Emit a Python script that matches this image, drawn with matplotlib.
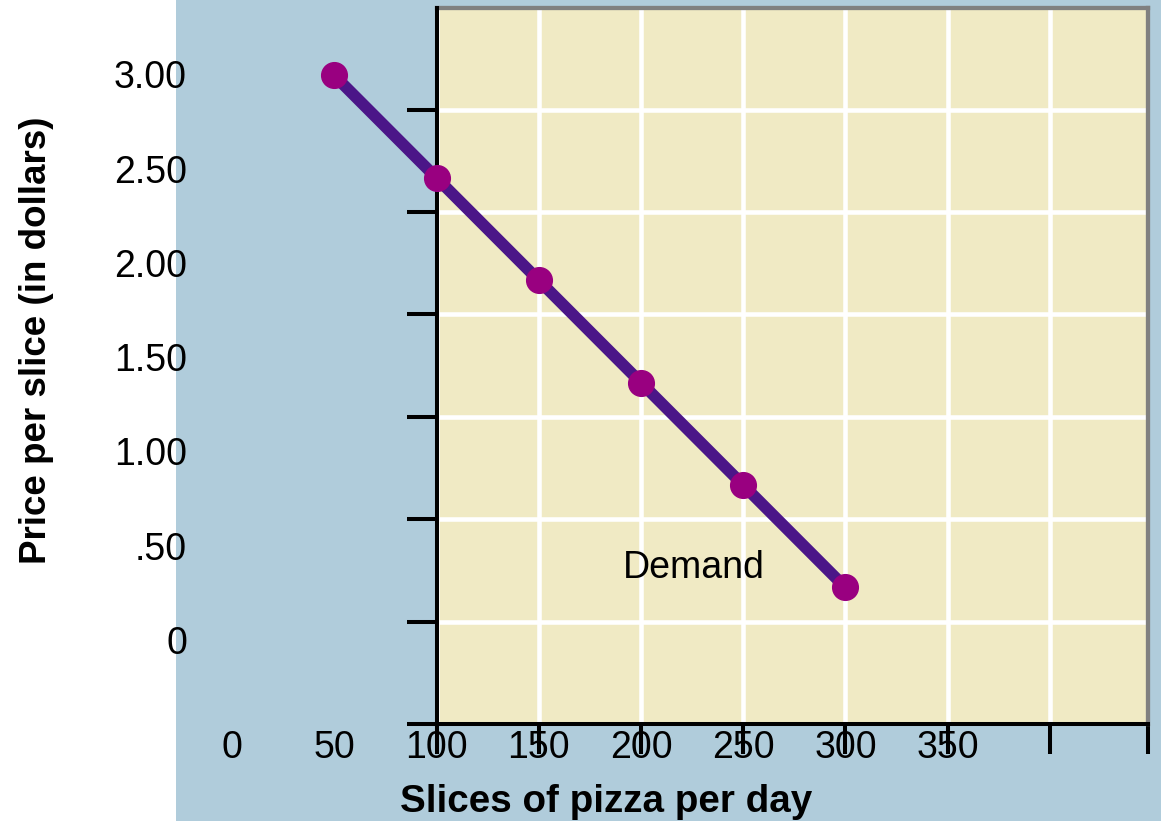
import matplotlib
matplotlib.use("Agg")
import matplotlib.pyplot as plt
import numpy as np
from matplotlib.patches import Rectangle
from matplotlib.transforms import blended_transform_factory

plt.rcParams["font.family"] = ["Liberation Sans", "DejaVu Sans"]

# Demand schedule for pizza slices
quantity = [50, 100, 150, 200, 250, 300]
price = [3.00, 2.50, 2.00, 1.50, 1.00, 0.50]

# Axis labelling
x_label_values = [0, 50, 100, 150, 200, 250, 300, 350]
x_label_text = ["0", "50", "100", "150", "200", "250", "300", "350"]
y_label_values = [0, 0.5, 1.0, 1.5, 2.0, 2.5, 3.0]
y_label_text = ["0", ".50", "1.00", "1.50", "2.00", "2.50", "3.00"]

LABEL_SIZE = 27

W, H = 1161, 821
fig = plt.figure(figsize=(W / 100, H / 100), dpi=100)
fig.patch.set_facecolor("white")
fig.add_artist(Rectangle((176 / W, 0), 1 - 176 / W, 1, transform=fig.transFigure,
                         facecolor="#b0ccdb", edgecolor="none", zorder=0))

ax_h = (724 - 8.5) / H
ax = fig.add_axes([436.5 / W, 97 / H, (1148 - 436.5) / W, ax_h])
ax.set_facecolor("#f0eac4")
ax.set_xlim(100, 448)
ax.set_ylim(-1 / 6, 3.327)

ax.set_xticks(list(range(100, 401, 50)) + [448])
ax.set_xticklabels([])
ax.set_yticks(np.arange(7) * 0.5 - 1 / 6)
ax.set_yticklabels([])
ax.tick_params(direction="out", length=21.5, width=2.9, color="black")
ax.grid(True, color="white", linewidth=3.3)
ax.set_axisbelow(True)

for side in ("left", "bottom"):
    ax.spines[side].set_color("black")
    ax.spines[side].set_linewidth(2.9)
for side in ("top", "right"):
    ax.spines[side].set_color("#808080")
    ax.spines[side].set_linewidth(3.1)
ax.spines["left"].set_zorder(2.6)

ax.plot(quantity, price, color="#4b1688", lw=8.4, marker="o", ms=18.5,
        mfc="#990080", mec="#990080", clip_on=False, zorder=5)

ax.text(191.4, 0.546, "Demand", ha="left", va="baseline", fontsize=LABEL_SIZE)

# Price labels on their own scale
ax_lab = ax.twinx()
ax_lab.set_ylim(-0.4454, 3.3484)
ax_lab.yaxis.tick_left()
ax_lab.set_yticks(y_label_values, y_label_text)
ax_lab.tick_params(axis="y", length=0, pad=179.6, labelsize=LABEL_SIZE)
for s in ax_lab.spines.values():
    s.set_visible(False)

# Quantity labels placed along the data scale
trans = blended_transform_factory(ax.transData, ax.transAxes)
for v, s in zip(x_label_values, x_label_text):
    ax.text(v, -(758 - 724) / (724 - 8.5), s, transform=trans, ha="center",
            va="baseline", fontsize=LABEL_SIZE, clip_on=False)

fig.text(36.5 / W, 1 - 340.5 / H, "Price per slice (in dollars)", rotation=90,
         ha="center", va="center", fontsize=26.5, fontweight="bold")
fig.text(606 / W, 9 / H, "Slices of pizza per day", ha="center", va="baseline",
         fontsize=27.8, fontweight="bold")

fig.savefig("out.png", dpi=100)
